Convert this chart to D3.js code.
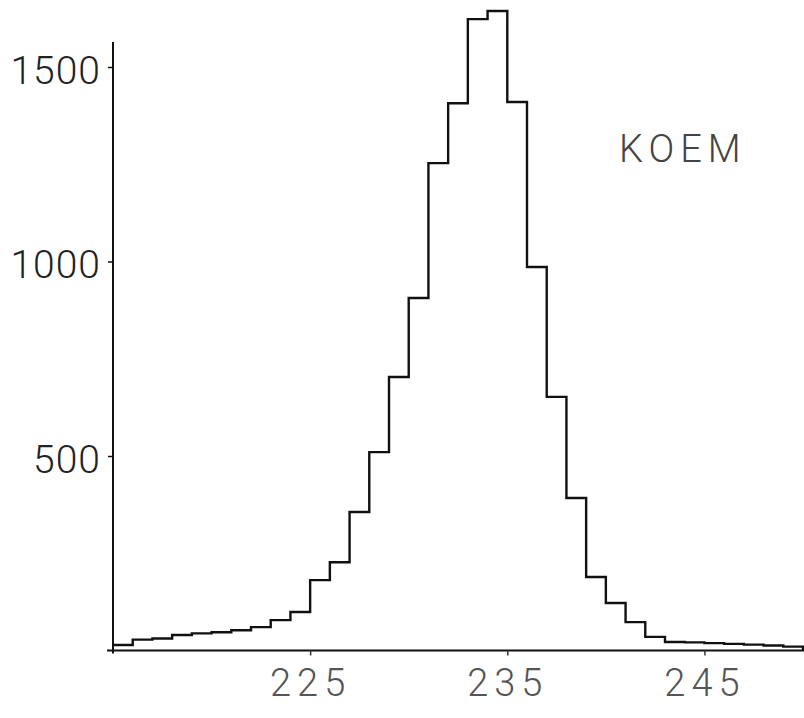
<!DOCTYPE html>
<html>
<head>
<meta charset="utf-8">
<script src="https://cdn.jsdelivr.net/npm/d3@7"></script>
<style>
  html, body { margin: 0; padding: 0; background: #fff; }
  svg { display: block; }
</style>
</head>
<body>
<svg id="chart" width="804" height="718"></svg>
<script>
// Histogram bins: left edge of each unit-wide bin
const binStarts = [215,216,217,218,219,220,221,222,223,224,225,226,227,228,229,230,231,232,233,234,235,236,237,238,239,240,241,242,243,244,245,246,247,248,249];
// Counts
const counts = [14,28,31,40,44,47,52,60,78,99,181,227,356,510,703,906,1253,1407,1623,1644,1410,986,652,392,189,122,73,35,22,21,19,17,15,13,10];
const xTicks = [225,235,245];
const yTicks = [500,1000,1500];
const label = "KOEM";

const svg = d3.select("#chart");
const x = d3.scaleLinear().domain([215,250]).range([113,803]);
const y = d3.scaleLinear().domain([0,1500]).range([650.5,67]);

// Axes lines
svg.append("line").attr("x1", x(215)).attr("x2", x(215)).attr("y1", y(0)+3).attr("y2", y(1564))
  .attr("stroke","#111").attr("stroke-width",2);
svg.append("line").attr("x1", x(214.7)).attr("x2", 804).attr("y1", y(0)).attr("y2", y(0))
  .attr("stroke","#111").attr("stroke-width",2.2);

// Y axis ticks and labels
const yAxis = d3.axisLeft(y).tickValues(yTicks).tickSize(5).tickFormat(d3.format("d"));
const gy = svg.append("g").attr("transform", `translate(${x(215)},0)`).call(yAxis);
gy.select(".domain").remove();
gy.selectAll(".tick line").attr("stroke","#111").attr("stroke-width",1.5);
gy.selectAll(".tick text")
  .attr("x", -12).attr("dy","0.42em")
  .style("font-family","Roboto, 'Liberation Sans', sans-serif")
  .style("font-weight","300")
  .style("font-size","39px")
  .style("letter-spacing","1px")
  .attr("fill","#222");

// X axis ticks and labels
const xAxis = d3.axisBottom(x).tickValues(xTicks).tickSize(5).tickFormat(d3.format("d"));
const gx = svg.append("g").attr("transform", `translate(0,${y(0)})`).call(xAxis);
gx.select(".domain").remove();
gx.selectAll(".tick line").attr("stroke","#333").attr("stroke-width",1.5);
gx.selectAll(".tick text")
  .attr("y", 19).attr("dy","0.71em")
  .style("font-family","Roboto, 'Liberation Sans', sans-serif")
  .style("font-weight","300")
  .style("font-size","38px")
  .style("letter-spacing","6px")
  .attr("fill","#555");

// Step outline of histogram
let p = d3.path();
binStarts.forEach((b, i) => {
  if (i === 0) p.moveTo(x(b), y(counts[i]));
  else p.lineTo(x(b), y(counts[i]));
  p.lineTo(x(b+1), y(counts[i]));
});
p.lineTo(x(binStarts[binStarts.length-1]+1), y(0));
svg.append("path").attr("d", p.toString())
  .attr("fill","none").attr("stroke","#111").attr("stroke-width",2.4)
  .attr("stroke-linejoin","miter");

// Label
svg.append("text").attr("x", 619).attr("y", 162)
  .text(label)
  .style("font-family","Roboto, 'Liberation Sans', sans-serif")
  .style("font-weight","300")
  .style("font-size","38px")
  .style("letter-spacing","6px")
  .attr("fill","#444");
</script>
</body>
</html>
